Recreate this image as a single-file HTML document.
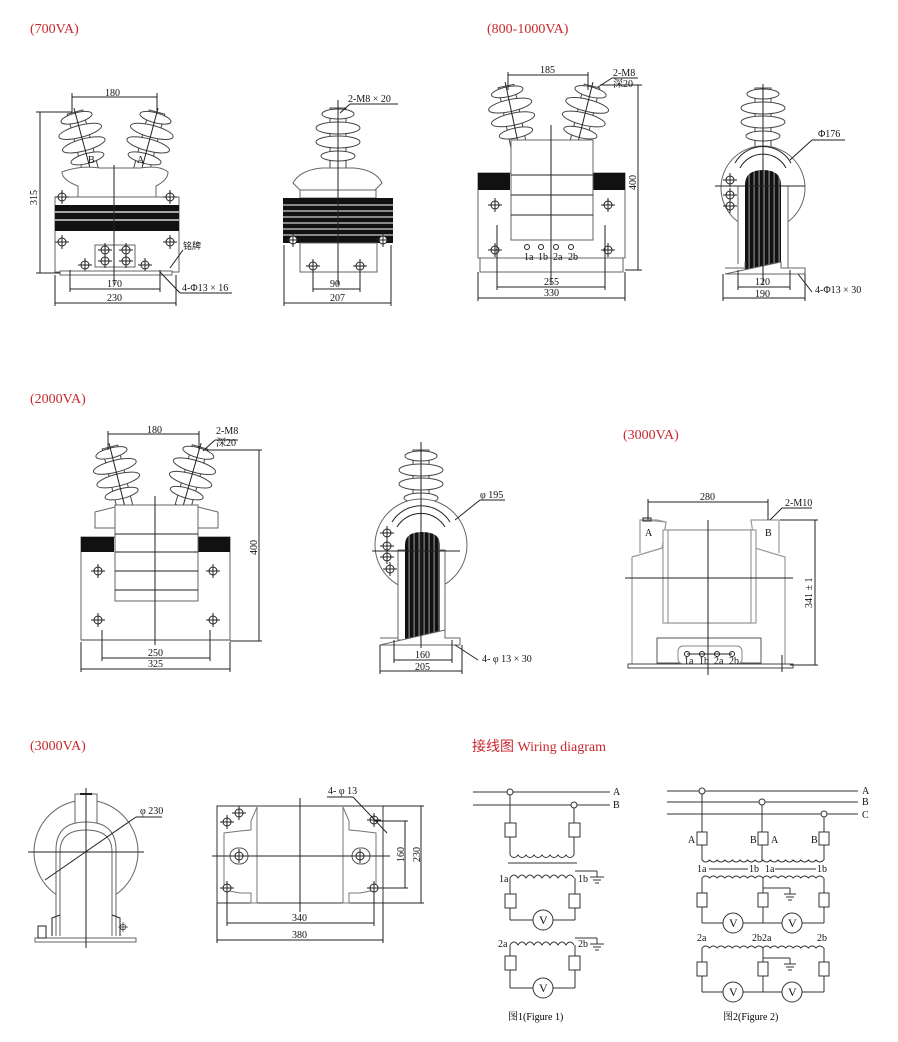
<!DOCTYPE html>
<html><head><meta charset="utf-8"><style>
html,body{margin:0;padding:0;background:#fff;}
svg{display:block;font-family:"Liberation Serif","Noto Serif CJK SC",serif;}
.t{fill:#c8282d;font-size:14px;}
.s{stroke:#222;fill:none;stroke-width:1;}
.g{stroke:#666;fill:#fff;stroke-width:1;}
.d{font-size:10px;fill:#111;}
.w{stroke:#333;fill:none;stroke-width:1;}
</style></head><body>
<svg width="898" height="1042" viewBox="0 0 898 1042" xmlns="http://www.w3.org/2000/svg">
<defs>
<g id="ins">
<rect x="-8" y="0" width="16" height="62" fill="#fff" stroke="#444"/>
<ellipse cx="0" cy="6" rx="16" ry="5" fill="#fff" stroke="#444"/>
<ellipse cx="0" cy="20" rx="22" ry="6" fill="#fff" stroke="#444"/>
<ellipse cx="0" cy="34" rx="22" ry="6" fill="#fff" stroke="#444"/>
<ellipse cx="0" cy="48" rx="17" ry="5" fill="#fff" stroke="#444"/>
<line x1="0" y1="-4" x2="0" y2="66" stroke="#222"/>
</g>
<pattern id="core" width="5" height="10" patternUnits="userSpaceOnUse"><rect width="5" height="10" fill="#111"/><rect x="3.5" width="1.2" height="10" fill="#888"/></pattern>
<g id="bolt"><circle r="4" fill="#fff" stroke="#222"/><line x1="-7" y1="0" x2="7" y2="0" stroke="#222"/><line x1="0" y1="-7" x2="0" y2="7" stroke="#222"/></g>
</defs>

<!-- titles -->
<text class="t" x="30" y="33">(700VA)</text>
<text class="t" x="487" y="33">(800-1000VA)</text>
<text class="t" x="30" y="403">(2000VA)</text>
<text class="t" x="623" y="439">(3000VA)</text>
<text class="t" x="30" y="750">(3000VA)</text>
<text class="t" x="472" y="751" style="font-family:'Liberation Serif','Noto Sans CJK SC',serif">接线图 Wiring diagram</text>

<!-- ===== 700VA front ===== -->
<use href="#ins" transform="translate(75,112) rotate(-15)"/>
<use href="#ins" transform="translate(157,112) rotate(15)"/>
<path d="M62,172 Q80,165 100,168 L140,168 Q160,165 168,172 Q168,180 156,186 L156,197 L78,197 L78,186 Q62,180 62,172Z" class="g"/>
<rect x="55" y="197" width="124" height="75" class="g"/>
<rect x="55" y="205" width="124" height="26" fill="#111"/>
<line x1="55" y1="212" x2="179" y2="212" stroke="#fff" stroke-width="1.2"/>
<line x1="55" y1="220" x2="179" y2="220" stroke="#fff" stroke-width="1.2"/>
<rect x="95" y="245" width="40" height="22" class="g"/>
<use href="#bolt" transform="translate(105,250)"/><use href="#bolt" transform="translate(126,250)"/>
<use href="#bolt" transform="translate(105,261)"/><use href="#bolt" transform="translate(126,261)"/>
<use href="#bolt" transform="translate(62,197)"/><use href="#bolt" transform="translate(170,197)"/>
<use href="#bolt" transform="translate(62,242)"/><use href="#bolt" transform="translate(170,242)"/>
<use href="#bolt" transform="translate(85,265)"/><use href="#bolt" transform="translate(145,265)"/>
<rect x="60" y="271" width="112" height="4" class="g"/>
<line x1="114" y1="165" x2="114" y2="285" stroke="#222"/>
<g class="s"><line x1="72" y1="97" x2="157" y2="97"/><line x1="72" y1="93" x2="72" y2="112"/><line x1="157" y1="93" x2="157" y2="112"/>
<line x1="40" y1="112" x2="40" y2="273"/><line x1="36" y1="112" x2="72" y2="112"/><line x1="36" y1="273" x2="60" y2="273"/>
<line x1="70" y1="289" x2="160" y2="289"/><line x1="70" y1="270" x2="70" y2="292"/><line x1="160" y1="270" x2="160" y2="292"/>
<line x1="55" y1="303" x2="176" y2="303"/><line x1="55" y1="275" x2="55" y2="306"/><line x1="176" y1="275" x2="176" y2="306"/>
<line x1="160" y1="272" x2="180" y2="293"/><line x1="180" y1="293" x2="232" y2="293"/>
<line x1="170" y1="268" x2="183" y2="250"/></g>
<text class="d" x="105" y="96">180</text>
<text class="d" x="37" y="205" transform="rotate(-90 37 205)">315</text>
<text class="d" x="107" y="287">170</text>
<text class="d" x="107" y="301">230</text>
<text class="d" x="183" y="249" style="font-family:'Noto Sans CJK SC',sans-serif;font-size:9px">铭牌</text>
<text class="d" x="182" y="291">4-Φ13 × 16</text>
<text class="d" x="88" y="163" font-size="8">B</text><text class="d" x="137" y="163" font-size="8">A</text>

<!-- ===== 700VA side ===== -->
<use href="#ins" transform="translate(338,108)"/>
<path d="M293,183 Q300,170 322,168 L354,168 Q376,170 382,183 L375,190 L300,190Z" class="g"/>
<rect x="300" y="190" width="76" height="8" class="g"/>
<rect x="283" y="198" width="110" height="45" fill="#111"/>
<g stroke="#fff" stroke-width="1"><line x1="283" y1="205" x2="393" y2="205"/><line x1="283" y1="211" x2="393" y2="211"/><line x1="283" y1="217" x2="393" y2="217"/><line x1="283" y1="223" x2="393" y2="223"/><line x1="283" y1="229" x2="393" y2="229"/><line x1="283" y1="235" x2="393" y2="235"/></g>
<rect x="300" y="243" width="77" height="29" class="g"/>
<use href="#bolt" transform="translate(313,266)"/><use href="#bolt" transform="translate(360,266)"/>
<use href="#bolt" transform="translate(293,240)"/><use href="#bolt" transform="translate(383,240)"/>
<line x1="338" y1="100" x2="338" y2="285" stroke="#222"/>
<g class="s"><line x1="313" y1="289" x2="360" y2="289"/><line x1="313" y1="270" x2="313" y2="292"/><line x1="360" y1="270" x2="360" y2="292"/>
<line x1="284" y1="303" x2="391" y2="303"/><line x1="284" y1="245" x2="284" y2="306"/><line x1="391" y1="245" x2="391" y2="306"/>
<line x1="340" y1="113" x2="350" y2="104"/><line x1="350" y1="104" x2="398" y2="104"/></g>
<text class="d" x="348" y="102">2-M8 × 20</text>
<text class="d" x="330" y="287">90</text>
<text class="d" x="330" y="301">207</text>

<!-- ===== 800-1000VA front ===== -->
<use href="#ins" transform="translate(506,86) rotate(-12)"/>
<use href="#ins" transform="translate(592,86) rotate(14)"/>
<rect x="478" y="173" width="147" height="85" class="g"/>
<rect x="478" y="173" width="32" height="17" fill="#111"/>
<rect x="593" y="173" width="32" height="17" fill="#111"/>
<rect x="511" y="140" width="82" height="100" class="g"/>
<g class="s"><line x1="511" y1="175" x2="593" y2="175"/><line x1="511" y1="195" x2="593" y2="195"/><line x1="511" y1="215" x2="593" y2="215"/></g>
<rect x="480" y="258" width="143" height="14" class="g"/>
<use href="#bolt" transform="translate(495,205)"/><use href="#bolt" transform="translate(495,250)"/>
<use href="#bolt" transform="translate(608,205)"/><use href="#bolt" transform="translate(608,250)"/>
<g class="s"><circle cx="527" cy="247" r="2.5"/><circle cx="541" cy="247" r="2.5"/><circle cx="556" cy="247" r="2.5"/><circle cx="571" cy="247" r="2.5"/></g>
<text class="d" x="524" y="260" font-size="6">1a</text><text class="d" x="538" y="260" font-size="6">1b</text><text class="d" x="553" y="260" font-size="6">2a</text><text class="d" x="568" y="260" font-size="6">2b</text>
<line x1="551" y1="125" x2="551" y2="285" stroke="#222"/>
<g class="s"><line x1="508" y1="75" x2="588" y2="75"/><line x1="508" y1="72" x2="508" y2="90"/><line x1="588" y1="72" x2="588" y2="90"/>
<line x1="638" y1="85" x2="638" y2="270"/><line x1="600" y1="85" x2="642" y2="85"/><line x1="625" y1="270" x2="642" y2="270"/>
<line x1="497" y1="287" x2="605" y2="287"/><line x1="497" y1="225" x2="497" y2="290"/><line x1="605" y1="225" x2="605" y2="290"/>
<line x1="478" y1="298" x2="625" y2="298"/><line x1="478" y1="272" x2="478" y2="301"/><line x1="625" y1="272" x2="625" y2="301"/>
<line x1="598" y1="87" x2="612" y2="78"/><line x1="612" y1="78" x2="638" y2="78"/></g>
<text class="d" x="540" y="73">185</text>
<text class="d" x="613" y="76">2-M8</text>
<text class="d" x="613" y="87" style="font-family:'Liberation Serif','Noto Serif CJK SC',serif">深20</text>
<text class="d" x="636" y="190" transform="rotate(-90 636 190)">400</text>
<text class="d" x="544" y="285">255</text>
<text class="d" x="544" y="296">330</text>

<!-- ===== 800-1000VA side ===== -->
<use href="#ins" transform="translate(763,88)"/>
<circle cx="763" cy="188" r="42" class="g"/>
<path d="M735,163 A32,32 0 0 1 791,163" class="s"/>
<path d="M740,168 A26,26 0 0 1 786,168" class="s"/>
<rect x="738" y="186" width="50" height="82" class="g"/>
<path d="M745,270 L745,185 Q745,170 763,170 Q781,170 781,185 L781,270Z" fill="url(#core)"/>
<use href="#bolt" transform="translate(730,180)"/><use href="#bolt" transform="translate(730,195)"/><use href="#bolt" transform="translate(730,206)"/>
<path d="M725,268 L745,268 L745,262 M781,262 L781,268 L805,268 L805,274 L725,274Z" class="g"/>
<line x1="763" y1="88" x2="763" y2="285" stroke="#222"/><line x1="715" y1="186" x2="805" y2="186" stroke="#222"/>
<g class="s"><line x1="790" y1="160" x2="812" y2="140"/><line x1="812" y1="140" x2="845" y2="140"/>
<line x1="738" y1="287" x2="790" y2="287"/><line x1="738" y1="270" x2="738" y2="290"/><line x1="790" y1="270" x2="790" y2="290"/>
<line x1="723" y1="298" x2="805" y2="298"/><line x1="723" y1="274" x2="723" y2="301"/><line x1="805" y1="274" x2="805" y2="301"/>
<line x1="798" y1="274" x2="812" y2="292"/></g>
<text class="d" x="818" y="137">Φ176</text>
<text class="d" x="755" y="285">120</text>
<text class="d" x="755" y="297">190</text>
<text class="d" x="815" y="293">4-Φ13 × 30</text>

<!-- ===== 2000VA front ===== -->
<use href="#ins" transform="translate(110,447) rotate(-14)"/>
<use href="#ins" transform="translate(200,447) rotate(16)"/>
<path d="M95,512 L115,507 L115,528 L95,528Z" class="g"/>
<path d="M198,507 L218,512 L218,528 L198,528Z" class="g"/>
<rect x="81" y="537" width="149" height="103" class="g"/>
<rect x="81" y="537" width="33" height="15" fill="#111"/>
<rect x="198" y="537" width="32" height="15" fill="#111"/>
<rect x="115" y="505" width="83" height="96" class="g"/>
<g class="s"><line x1="115" y1="534" x2="198" y2="534"/><line x1="115" y1="552" x2="198" y2="552"/><line x1="115" y1="571" x2="198" y2="571"/><line x1="115" y1="590" x2="198" y2="590"/></g>
<use href="#bolt" transform="translate(98,571)"/><use href="#bolt" transform="translate(98,620)"/>
<use href="#bolt" transform="translate(213,571)"/><use href="#bolt" transform="translate(213,620)"/>
<line x1="81" y1="640" x2="230" y2="640" stroke="#444"/>
<line x1="155" y1="496" x2="155" y2="645" stroke="#222"/>
<g class="s"><line x1="108" y1="434" x2="199" y2="434"/><line x1="108" y1="431" x2="108" y2="450"/><line x1="199" y1="431" x2="199" y2="450"/>
<line x1="259" y1="450" x2="259" y2="641"/><line x1="205" y1="450" x2="262" y2="450"/><line x1="230" y1="641" x2="262" y2="641"/>
<line x1="102" y1="658" x2="210" y2="658"/><line x1="102" y1="630" x2="102" y2="661"/><line x1="210" y1="630" x2="210" y2="661"/>
<line x1="81" y1="669" x2="230" y2="669"/><line x1="81" y1="642" x2="81" y2="672"/><line x1="230" y1="642" x2="230" y2="672"/>
<line x1="203" y1="451" x2="215" y2="440"/><line x1="215" y1="440" x2="238" y2="440"/></g>
<text class="d" x="147" y="433">180</text>
<text class="d" x="216" y="434">2-M8</text>
<text class="d" x="216" y="446" style="font-family:'Liberation Serif','Noto Serif CJK SC',serif">深20</text>
<text class="d" x="257" y="555" transform="rotate(-90 257 555)">400</text>
<text class="d" x="148" y="656">250</text>
<text class="d" x="148" y="667">325</text>

<!-- ===== 2000VA side ===== -->
<use href="#ins" transform="translate(421,450)"/>
<circle cx="421" cy="545" r="46" class="g"/>
<path d="M392,522 A34,34 0 0 1 450,522" class="s"/>
<path d="M397,527 A28,28 0 0 1 445,527" class="s"/>
<rect x="398" y="550" width="47" height="90" class="g"/>
<path d="M405,640 L405,545 Q405,532 422,532 Q440,532 440,545 L440,640Z" fill="url(#core)"/>
<use href="#bolt" transform="translate(387,533)"/><use href="#bolt" transform="translate(387,546)"/><use href="#bolt" transform="translate(387,557)"/><use href="#bolt" transform="translate(390,569)"/>
<path d="M380,638 L398,638 L398,630 M445,630 L445,638 L460,638 L460,645 L380,645Z" class="g"/>
<line x1="421" y1="442" x2="421" y2="648" stroke="#222"/><line x1="372" y1="551" x2="460" y2="551" stroke="#222"/>
<g class="s"><line x1="455" y1="520" x2="480" y2="500"/><line x1="480" y1="500" x2="505" y2="500"/>
<line x1="394" y1="660" x2="452" y2="660"/><line x1="394" y1="640" x2="394" y2="663"/><line x1="452" y1="640" x2="452" y2="663"/>
<line x1="380" y1="671" x2="462" y2="671"/><line x1="380" y1="645" x2="380" y2="674"/><line x1="462" y1="645" x2="462" y2="674"/>
<line x1="455" y1="645" x2="478" y2="660"/></g>
<text class="d" x="480" y="498">φ 195</text>
<text class="d" x="415" y="658">160</text>
<text class="d" x="415" y="670">205</text>
<text class="d" x="482" y="662">4- φ 13 × 30</text>

<!-- ===== 3000VA right ===== -->
<g stroke="#999" fill="#fff" stroke-width="1.2">
<path d="M632,557 L662,548 L666,522 L657,520 L644,520 L640,550"/>
<path d="M632,557 L662,548 L666,522 L644,520 L640,520 L640,553 M632,557 L632,665 L785,665 L785,557 L755,548 L751,520 L779,520 L779,553"/>
<rect x="663" y="530" width="93" height="93"/>
<rect x="668" y="530" width="83" height="93"/>
</g>
<rect x="657" y="638" width="104" height="25" fill="#fff" stroke="#555"/>
<rect x="678" y="646" width="64" height="18" rx="5" fill="#fff" stroke="#888"/>
<rect x="628" y="664" width="165" height="4" fill="#fff" stroke="#444"/>
<g class="s"><circle cx="687" cy="654" r="2.5"/><circle cx="702" cy="654" r="2.5"/><circle cx="717" cy="654" r="2.5"/><circle cx="732" cy="654" r="2.5"/><line x1="687" y1="654" x2="732" y2="654"/></g>
<text class="d" x="684" y="664" font-size="5">1a</text><text class="d" x="699" y="664" font-size="5">1b</text><text class="d" x="714" y="664" font-size="5">2a</text><text class="d" x="729" y="664" font-size="5">2b</text>
<line x1="708" y1="520" x2="708" y2="675" stroke="#222"/><line x1="625" y1="578" x2="793" y2="578" stroke="#222"/>
<line x1="782" y1="655" x2="782" y2="672" stroke="#222"/>
<rect x="643" y="518" width="8" height="3" fill="none" stroke="#222"/>
<g class="s"><line x1="648" y1="502" x2="768" y2="502"/><line x1="648" y1="499" x2="648" y2="520"/><line x1="768" y1="499" x2="768" y2="520"/>
<line x1="815" y1="520" x2="815" y2="665"/><line x1="780" y1="520" x2="818" y2="520"/><line x1="790" y1="665" x2="818" y2="665"/>
<line x1="770" y1="520" x2="782" y2="508"/><line x1="782" y1="508" x2="812" y2="508"/></g>
<text class="d" x="700" y="500">280</text>
<text class="d" x="785" y="506">2-M10</text>
<text class="d" x="645" y="536">A</text><text class="d" x="765" y="536">B</text>
<text class="d" x="812" y="608" transform="rotate(-90 812 608)">341 ± 1</text>

<!-- ===== 3000VA bottom left ===== -->
<circle cx="86" cy="852" r="52" class="g"/>
<rect x="75" y="794" width="22" height="30" class="g"/>
<path d="M56,936 L56,850 Q56,822 86,822 Q116,822 116,850 L116,936" class="g"/>
<path d="M60,936 L60,852 Q60,830 86,830 Q112,830 112,852 L112,936" class="g"/>
<path d="M52,936 L52,918 L60,915 M112,915 L120,918 L120,936" class="s"/>
<rect x="35" y="938" width="101" height="4" class="g"/>
<rect x="38" y="926" width="8" height="12" class="s"/>
<line x1="86" y1="788" x2="86" y2="948" stroke="#222"/><line x1="28" y1="852" x2="144" y2="852" stroke="#222"/>
<line x1="80" y1="794" x2="92" y2="794" stroke="#222" stroke-width="2"/>
<use href="#bolt" transform="translate(123,927) scale(0.7)"/>
<g class="s"><line x1="45" y1="880" x2="136" y2="817"/><line x1="136" y1="817" x2="162" y2="817"/></g>
<text class="d" x="140" y="814">φ 230</text>

<g>
<rect x="217" y="806" width="166" height="97" fill="#fff" stroke="#333"/>
<path d="M257,807 L251,821 L251,830 L240,831 L224,833 L224,890 L240,893 L251,893 L251,903 L257,903Z" fill="#fff" stroke="#777"/>
<path d="M343,807 L349,821 L349,830 L360,831 L376,833 L376,890 L360,893 L349,893 L349,903 L343,903Z" fill="#fff" stroke="#777"/>
<rect x="230" y="848" width="18" height="16" rx="8" fill="#fff" stroke="#555"/>
<rect x="352" y="848" width="18" height="16" rx="8" fill="#fff" stroke="#555"/>
<use href="#bolt" transform="translate(239,856)"/><use href="#bolt" transform="translate(360,856)"/>
<use href="#bolt" transform="translate(239,813)"/>
<use href="#bolt" transform="translate(227,822)"/><use href="#bolt" transform="translate(374,820)"/>
<use href="#bolt" transform="translate(227,888)"/><use href="#bolt" transform="translate(374,888)"/>
<line x1="300" y1="798" x2="300" y2="912" stroke="#222"/><line x1="212" y1="856" x2="390" y2="856" stroke="#222"/>
</g>
<g class="s"><line x1="227" y1="923" x2="374" y2="923"/><line x1="227" y1="888" x2="227" y2="926"/><line x1="374" y1="888" x2="374" y2="926"/>
<line x1="217" y1="940" x2="383" y2="940"/><line x1="217" y1="903" x2="217" y2="943"/><line x1="383" y1="903" x2="383" y2="943"/>
<line x1="405" y1="821" x2="405" y2="888"/><line x1="374" y1="821" x2="408" y2="821"/><line x1="374" y1="888" x2="408" y2="888"/>
<line x1="421" y1="806" x2="421" y2="903"/><line x1="383" y1="806" x2="424" y2="806"/><line x1="383" y1="903" x2="424" y2="903"/>
<line x1="327" y1="797" x2="353" y2="797"/><line x1="353" y1="797" x2="387" y2="833"/></g>
<text class="d" x="328" y="794">4- φ 13</text>
<text class="d" x="292" y="921">340</text>
<text class="d" x="292" y="938">380</text>
<text class="d" x="404" y="862" transform="rotate(-90 404 862)">160</text>
<text class="d" x="420" y="862" transform="rotate(-90 420 862)">230</text>

<!-- ===== Figure 1 ===== -->
<g class="w">
<line x1="473" y1="792" x2="610" y2="792"/><line x1="473" y1="805" x2="610" y2="805"/>
<circle cx="510" cy="792" r="3" fill="#fff"/><circle cx="574" cy="805" r="3" fill="#fff"/>
<line x1="510" y1="795" x2="510" y2="855"/><line x1="574" y1="808" x2="574" y2="855"/>
<rect x="505" y="823" width="11" height="14" fill="#fff"/><rect x="569" y="823" width="11" height="14" fill="#fff"/>
<path d="M510,855 q4,5 8,0 q4,5 8,0 q4,5 8,0 q4,5 8,0 q4,5 8,0 q4,5 8,0 q4,5 8,0 q4,5 8,0"/>
<line x1="508" y1="863" x2="577" y2="863"/>
<path d="M510,878 q4,-6 8,0 q4,-6 8,0 q4,-6 8,0 q4,-6 8,0 q4,-6 8,0 q4,-6 8,0 q4,-6 8,0 q4,-6 8,0"/>
<line x1="510" y1="878" x2="510" y2="920"/><line x1="575" y1="878" x2="575" y2="920"/>
<line x1="510" y1="920" x2="533" y2="920"/><line x1="553" y1="920" x2="575" y2="920"/>
<rect x="505" y="894" width="11" height="14" fill="#fff"/><rect x="569" y="894" width="11" height="14" fill="#fff"/>
<circle cx="543" cy="920" r="10" fill="#fff"/>
<line x1="575" y1="871" x2="597" y2="871"/><line x1="597" y1="871" x2="597" y2="877"/>
<line x1="590" y1="877" x2="604" y2="877"/><line x1="593" y1="880" x2="601" y2="880"/><line x1="595" y1="883" x2="599" y2="883"/>
<path d="M510,945 q4,-6 8,0 q4,-6 8,0 q4,-6 8,0 q4,-6 8,0 q4,-6 8,0 q4,-6 8,0 q4,-6 8,0 q4,-6 8,0"/>
<line x1="510" y1="945" x2="510" y2="988"/><line x1="575" y1="945" x2="575" y2="988"/>
<line x1="510" y1="988" x2="533" y2="988"/><line x1="553" y1="988" x2="575" y2="988"/>
<rect x="505" y="956" width="11" height="14" fill="#fff"/><rect x="569" y="956" width="11" height="14" fill="#fff"/>
<circle cx="543" cy="988" r="10" fill="#fff"/>
<line x1="575" y1="938" x2="597" y2="938"/><line x1="597" y1="938" x2="597" y2="944"/>
<line x1="590" y1="944" x2="604" y2="944"/><line x1="593" y1="947" x2="601" y2="947"/><line x1="595" y1="950" x2="599" y2="950"/>
</g>
<g class="d" font-size="9">
<text x="613" y="795">A</text><text x="613" y="808">B</text>
<text x="499" y="882">1a</text><text x="578" y="882">1b</text>
<text x="498" y="947">2a</text><text x="578" y="947">2b</text>
<text x="539" y="924" font-size="12">V</text><text x="539" y="992" font-size="12">V</text>
</g>
<text x="508" y="1020" style="font-family:'Liberation Serif','Noto Serif CJK SC',serif;font-size:10px">图1(Figure 1)</text>

<!-- ===== Figure 2 ===== -->
<g class="w">
<line x1="667" y1="791" x2="858" y2="791"/><line x1="667" y1="802" x2="858" y2="802"/><line x1="667" y1="814" x2="858" y2="814"/>
<circle cx="702" cy="791" r="3" fill="#fff"/><circle cx="762" cy="802" r="3" fill="#fff"/><circle cx="824" cy="814" r="3" fill="#fff"/>
<line x1="702" y1="794" x2="702" y2="860"/><line x1="762" y1="805" x2="762" y2="860"/><line x1="824" y1="817" x2="824" y2="860"/>
<rect x="697" y="832" width="10" height="13" fill="#fff"/><rect x="758" y="832" width="10" height="13" fill="#fff"/><rect x="819" y="832" width="10" height="13" fill="#fff"/>
<path d="M702,860 q3.8,4 7.6,0 q3.8,4 7.6,0 q3.8,4 7.6,0 q3.8,4 7.6,0 q3.8,4 7.6,0 q3.8,4 7.6,0 q3.8,4 7.6,0 q3.8,4 7.6,0 q3.8,4 7.6,0 q3.8,4 7.6,0 q3.8,4 7.6,0 q3.8,4 7.6,0 q3.8,4 7.6,0 q3.8,4 7.6,0 q3.8,4 7.6,0 q3.8,4 7.6,0"/>
<line x1="709" y1="869" x2="748" y2="869"/><line x1="775" y1="869" x2="816" y2="869"/>
<path d="M702,878 q3.8,-4 7.6,0 q3.8,-4 7.6,0 q3.8,-4 7.6,0 q3.8,-4 7.6,0 q3.8,-4 7.6,0 q3.8,-4 7.6,0 q3.8,-4 7.6,0 q3.8,-4 7.6,0 q3.8,-4 7.6,0 q3.8,-4 7.6,0 q3.8,-4 7.6,0 q3.8,-4 7.6,0 q3.8,-4 7.6,0 q3.8,-4 7.6,0 q3.8,-4 7.6,0 q3.8,-4 7.6,0"/>
<line x1="702" y1="878" x2="702" y2="923"/><line x1="763" y1="878" x2="763" y2="923"/><line x1="824" y1="878" x2="824" y2="923"/>
<line x1="702" y1="923" x2="723" y2="923"/><line x1="743" y1="923" x2="782" y2="923"/><line x1="802" y1="923" x2="824" y2="923"/>
<rect x="697" y="893" width="10" height="14" fill="#fff"/><rect x="758" y="893" width="10" height="14" fill="#fff"/><rect x="819" y="893" width="10" height="14" fill="#fff"/>
<circle cx="733" cy="923" r="10" fill="#fff"/><circle cx="792" cy="923" r="10" fill="#fff"/>
<line x1="763" y1="888" x2="790" y2="888"/><line x1="790" y1="888" x2="790" y2="894"/>
<line x1="784" y1="894" x2="796" y2="894"/><line x1="786" y1="897" x2="794" y2="897"/><line x1="788" y1="900" x2="792" y2="900"/>
<path d="M702,948 q3.8,-4 7.6,0 q3.8,-4 7.6,0 q3.8,-4 7.6,0 q3.8,-4 7.6,0 q3.8,-4 7.6,0 q3.8,-4 7.6,0 q3.8,-4 7.6,0 q3.8,-4 7.6,0 q3.8,-4 7.6,0 q3.8,-4 7.6,0 q3.8,-4 7.6,0 q3.8,-4 7.6,0 q3.8,-4 7.6,0 q3.8,-4 7.6,0 q3.8,-4 7.6,0 q3.8,-4 7.6,0"/>
<line x1="702" y1="948" x2="702" y2="992"/><line x1="763" y1="948" x2="763" y2="992"/><line x1="824" y1="948" x2="824" y2="992"/>
<line x1="702" y1="992" x2="723" y2="992"/><line x1="743" y1="992" x2="782" y2="992"/><line x1="802" y1="992" x2="824" y2="992"/>
<rect x="697" y="962" width="10" height="14" fill="#fff"/><rect x="758" y="962" width="10" height="14" fill="#fff"/><rect x="819" y="962" width="10" height="14" fill="#fff"/>
<circle cx="733" cy="992" r="10" fill="#fff"/><circle cx="792" cy="992" r="10" fill="#fff"/>
<line x1="763" y1="958" x2="790" y2="958"/><line x1="790" y1="958" x2="790" y2="964"/>
<line x1="784" y1="964" x2="796" y2="964"/><line x1="786" y1="967" x2="794" y2="967"/><line x1="788" y1="970" x2="792" y2="970"/>
</g>
<g class="d" font-size="9">
<text x="862" y="794">A</text><text x="862" y="805">B</text><text x="862" y="818">C</text>
<text x="688" y="843">A</text><text x="750" y="843">B</text><text x="771" y="843">A</text><text x="811" y="843">B</text>
<text x="697" y="872">1a</text><text x="749" y="872">1b</text><text x="765" y="872">1a</text><text x="817" y="872">1b</text>
<text x="697" y="941">2a</text><text x="752" y="941">2b2a</text><text x="817" y="941">2b</text>
<text x="729" y="927" font-size="12">V</text><text x="788" y="927" font-size="12">V</text>
<text x="729" y="996" font-size="12">V</text><text x="788" y="996" font-size="12">V</text>
</g>
<text x="723" y="1020" style="font-family:'Liberation Serif','Noto Serif CJK SC',serif;font-size:10px">图2(Figure 2)</text>
</svg>
</body></html>
